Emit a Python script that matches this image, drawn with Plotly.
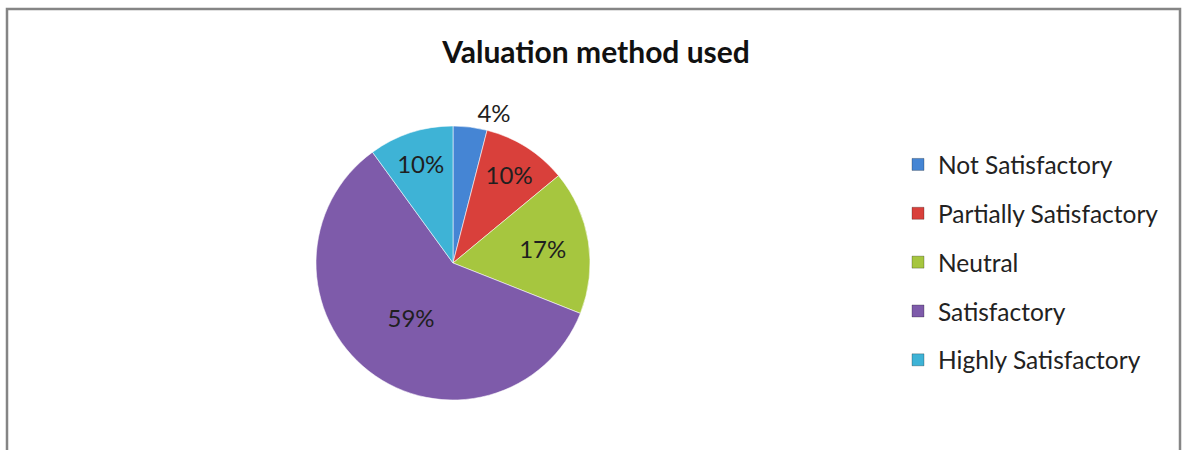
import plotly.graph_objects as go

# Survey responses on the valuation method used
categories = ["Not Satisfactory", "Partially Satisfactory", "Neutral",
              "Satisfactory", "Highly Satisfactory"]
shares = [4, 10, 17, 59, 10]
label_positions = ["outside", "inside", "inside", "inside", "inside"]
slice_colors = ["#4585D4", "#D9403B", "#A6C63F", "#7E5BAA", "#3EB3D6"]

FONT = "Lato"
W, H = 1183, 450

fig = go.Figure()

fig.add_trace(go.Pie(
    labels=categories,
    values=shares,
    sort=False,
    direction="clockwise",
    rotation=0,
    textinfo="percent",
    texttemplate="%{percent:.0%}",
    textposition=label_positions,
    insidetextorientation="horizontal",
    textfont=dict(family=FONT, size=24, color="#1f1f1f"),
    marker=dict(colors=slice_colors,
                line=dict(color="rgba(255,255,255,0.55)", width=1)),
    domain=dict(x=[316 / W, 590 / W], y=[50 / H, 324 / H]),
    showlegend=False,
    hoverinfo="label+percent",
))

# Legend entries, one group per category so the rows can be spaced out
for name, color in zip(categories, slice_colors):
    fig.add_trace(go.Scatter(
        x=[None], y=[None], mode="markers", name=name, legendgroup=name,
        marker=dict(symbol="square", size=12, color=color,
                    line=dict(color="rgba(0,0,0,0.25)", width=1)),
    ))

fig.update_layout(
    width=W, height=H,
    margin=dict(l=0, r=0, t=0, b=0),
    paper_bgcolor="white",
    plot_bgcolor="white",
    title=dict(text="Valuation method used", x=596 / W, xanchor="center",
               y=1 - 52 / H, yanchor="middle",
               font=dict(family=FONT, size=30, color="#111111", weight="bold")),
    xaxis=dict(visible=False),
    yaxis=dict(visible=False),
    legend=dict(x=898 / W, xanchor="left", y=1 - 142 / H, yanchor="top",
                font=dict(family=FONT, size=24.5, color="#222222"),
                itemwidth=30, tracegroupgap=14, bgcolor="rgba(0,0,0,0)"),
    shapes=[dict(type="rect", xref="paper", yref="paper",
                 x0=7 / W, x1=1180 / W, y0=-0.2, y1=1 - 9 / H,
                 line=dict(color="#858585", width=2.5),
                 fillcolor="rgba(0,0,0,0)", layer="below")],
)

fig.write_html("out.html")
